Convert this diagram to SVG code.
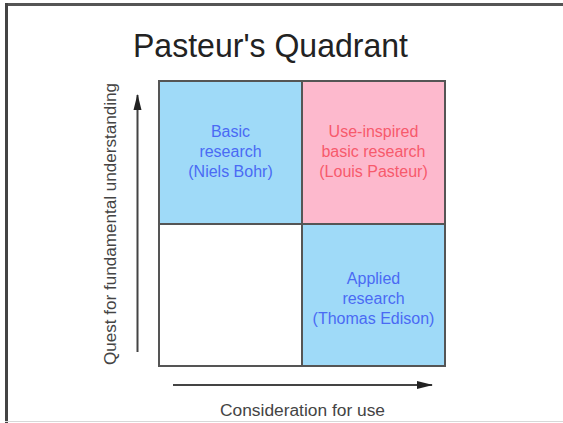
<svg xmlns="http://www.w3.org/2000/svg" width="563" height="423" viewBox="0 0 563 423">
<defs>
<style>
.lbl{font-family:"Liberation Sans",Arial,sans-serif;font-size:16px;text-anchor:middle}
.blue{fill:#4a6af4}
.red{fill:#f75a6c}
.axis{font-family:"Liberation Sans",Arial,sans-serif;font-size:16px;fill:#444;text-anchor:middle}
.cell{stroke:#555;stroke-width:2}
.arr{stroke:#444;stroke-width:2;fill:none}
</style>
<marker id="ah" viewBox="0 0 16 10" refX="15" refY="5" markerWidth="16" markerHeight="10" markerUnits="userSpaceOnUse" orient="auto">
<path d="M0,1 L16,5 L0,9 Z" fill="#222"/>
</marker>
</defs>
<rect x="0" y="0" width="563" height="423" fill="#fff"/>
<g id="frame">
<line x1="5" y1="4.5" x2="563" y2="4.5" stroke="#555" stroke-width="3"/>
<line x1="6.5" y1="3" x2="6.5" y2="423" stroke="#444" stroke-width="3"/>
<line x1="5" y1="421.5" x2="563" y2="421.5" stroke="#d8d8d8" stroke-width="1"/>
</g>
<g id="title">
<text x="270.5" y="57" font-family="Liberation Sans, Arial, sans-serif" font-size="34" fill="#222" text-anchor="middle" textLength="275" lengthAdjust="spacingAndGlyphs">Pasteur's Quadrant</text>
</g>
<g id="basic">
<rect class="cell" x="159" y="81" width="143" height="143" fill="#9fdaf8"/>
<text class="lbl blue" x="230.5" y="137">Basic</text>
<text class="lbl blue" x="230.5" y="157">research</text>
<text class="lbl blue" x="230.5" y="177">(Niels Bohr)</text>
</g>
<g id="useinspired">
<rect class="cell" x="302" y="81" width="143" height="143" fill="#fdb9cd"/>
<text class="lbl red" x="373.5" y="137">Use-inspired</text>
<text class="lbl red" x="373.5" y="157">basic research</text>
<text class="lbl red" x="373.5" y="177">(Louis Pasteur)</text>
</g>
<g id="empty">
<rect class="cell" x="159" y="224" width="143" height="142" fill="#fff"/>
</g>
<g id="applied">
<rect class="cell" x="302" y="224" width="143" height="142" fill="#9fdaf8"/>
<text class="lbl blue" x="373.5" y="284">Applied</text>
<text class="lbl blue" x="373.5" y="304">research</text>
<text class="lbl blue" x="373.5" y="324">(Thomas Edison)</text>
</g>
<g id="connectors">
<line class="arr" x1="137.5" y1="352" x2="137.5" y2="95" marker-end="url(#ah)"/>
<line class="arr" x1="173" y1="385" x2="432" y2="385" marker-end="url(#ah)"/>
</g>
<g id="axis-labels">
<text class="axis" transform="translate(116,224) rotate(-90)" textLength="282" lengthAdjust="spacingAndGlyphs">Quest for fundamental understanding</text>
<text class="axis" x="302.5" y="416" textLength="165" lengthAdjust="spacingAndGlyphs">Consideration for use</text>
</g>
</svg>
